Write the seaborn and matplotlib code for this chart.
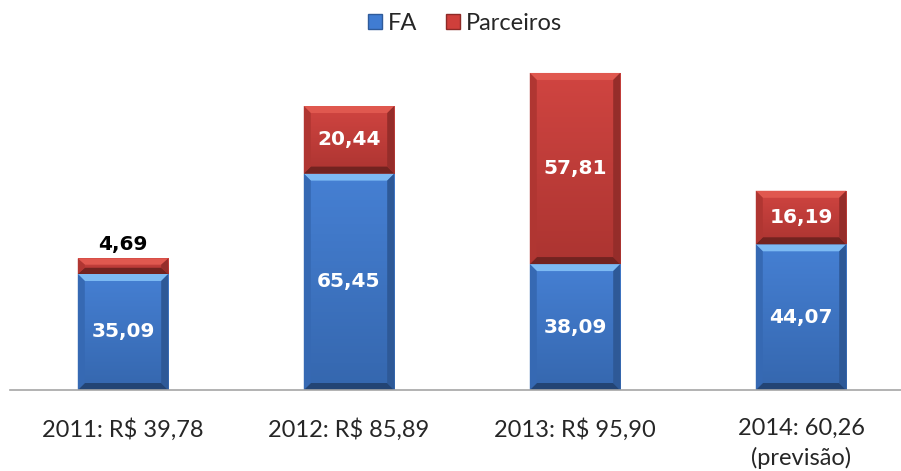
import matplotlib
matplotlib.use('Agg')
import matplotlib.pyplot as plt
import matplotlib.colors as mcolors
from matplotlib.patches import Polygon, Patch
import numpy as np
import pandas as pd
import seaborn as sns

# dados (valores em R$ milhoes)
anos = ['2011: R$ 39,78', '2012: R$ 85,89', '2013: R$ 95,90', '2014: 60,26\n(previsão)']
fa = [35.09, 65.45, 38.09, 44.07]
parceiros = [4.69, 20.44, 57.81, 16.19]

BLUE = '#407CD2'
RED = '#CF3F3B'
BLUE_TOP = '#7DBAF3'
RED_TOP = '#E0584F'

sns.set_theme(style='white')
plt.rcParams['font.family'] = ['Lato', 'DejaVu Sans']

W, H = 901, 471
fig = plt.figure(figsize=(W / 100, H / 100), dpi=100)
ax = fig.add_axes([10 / W, 81 / H, 891 / W, 350 / H])

df = pd.DataFrame({'ano': anos, 'fa': fa, 'parc': parceiros})
sns.barplot(data=df, x='ano', y='fa', color=BLUE, width=0.4, saturation=1, ax=ax)
n_fa = len(ax.patches)
ax.bar(range(len(anos)), parceiros, bottom=fa, width=0.4, color=RED)

ymax = 350 / 3.306
ax.set_xlim(-0.5, -0.5 + 891 / 226)
ax.set_ylim(0, ymax)

# px -> data units for the bevel
px_x = (891 / 226) / 891
px_y = ymax / 350


def shade(c, f):
    r = np.array(mcolors.to_rgb(c))
    if f > 0:
        return tuple(r + (1 - r) * f)
    return tuple(r * (1 + f))


def bevel(p, base, topc):
    x, y = p.get_x(), p.get_y()
    w, h = p.get_width(), p.get_height()
    # vertical gradient on the face
    grad = np.linspace(0, 1, 64)[:, None]
    top, bot = np.array(shade(base, 0.03)), np.array(shade(base, -0.17))
    img = (top[None, :] * (1 - grad) + bot[None, :] * grad)[:, None, :]
    im = ax.imshow(img, extent=(x, x + w, y, y + h), aspect='auto',
                   origin='upper', zorder=p.get_zorder() + 0.1)
    im.set_clip_path(p)
    dx, dy = 7 * px_x, min(7 * px_y, h / 2.5)
    polys = [
        ([(x, y + h), (x + w, y + h), (x + w - dx, y + h - dy), (x + dx, y + h - dy)], topc),
        ([(x, y), (x + w, y), (x + w - dx, y + dy), (x + dx, y + dy)], shade(base, -0.45)),
        ([(x, y), (x + dx, y + dy), (x + dx, y + h - dy), (x, y + h)], shade(base, -0.15)),
        ([(x + w, y), (x + w - dx, y + dy), (x + w - dx, y + h - dy), (x + w, y + h)], shade(base, -0.28)),
    ]
    for pts, c in polys:
        ax.add_patch(Polygon(pts, closed=True, facecolor=c, edgecolor='none',
                             zorder=p.get_zorder() + 0.2))


for i, p in enumerate(ax.patches[:]):
    if i < n_fa:
        bevel(p, BLUE, BLUE_TOP)
    else:
        bevel(p, RED, RED_TOP)

ax.set_xlim(-0.5, -0.5 + 891 / 226)
ax.set_ylim(0, ymax)


def fmt(v):
    return f'{v:.2f}'.replace('.', ',')


lab = dict(fontsize=14.5, fontweight='bold', family='DejaVu Sans', zorder=10)
for i in range(len(anos)):
    ax.text(i, fa[i] / 2, fmt(fa[i]), ha='center', va='center', color='white', **lab)
    if parceiros[i] > 8:
        ax.text(i, fa[i] + parceiros[i] / 2, fmt(parceiros[i]), ha='center', va='center',
                color='white', **lab)
    else:
        ax.annotate(fmt(parceiros[i]), (i, fa[i] + parceiros[i]), xytext=(0, 3),
                    textcoords='offset points', ha='center', va='bottom',
                    color='black', **lab)

for s in ['top', 'left', 'right']:
    ax.spines[s].set_visible(False)
ax.spines['bottom'].set_color('#A6A6A6')
ax.spines['bottom'].set_linewidth(1.2)
ax.set_yticks([])
ax.set_xlabel('')
ax.set_ylabel('')
ax.tick_params(axis='x', length=0, pad=20, labelsize=17, labelcolor='#262626')
for t in ax.get_xticklabels():
    t.set_linespacing(1.45)

handles = [Patch(facecolor=BLUE, edgecolor='#2F5B9A', label='FA'),
           Patch(facecolor=RED, edgecolor='#8E2A27', label='Parceiros')]
fig.legend(handles=handles, loc='upper center', bbox_to_anchor=(0.516, 1.018), ncol=2,
           frameon=False, fontsize=17, handlelength=0.6, handleheight=0.6,
           handletextpad=0.25, columnspacing=1.2, labelcolor='#262626')

fig.savefig('out.png', dpi=100)
